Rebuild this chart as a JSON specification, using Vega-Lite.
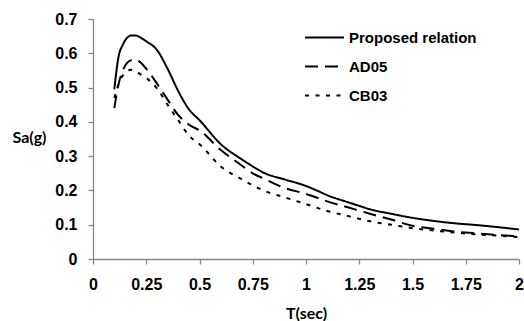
{
  "$schema": "https://vega.github.io/schema/vega-lite/v6.json",
  "width": 426,
  "height": 240,
  "autosize": "none",
  "padding": {"left": 93, "top": 19, "right": 5, "bottom": 62},
  "background": "white",
  "config": {"view": {"stroke": null}},
  "data": {"values": [
    {"T": 0.1, "Sa": 0.495, "series": "Proposed relation"},
    {"T": 0.12, "Sa": 0.59, "series": "Proposed relation"},
    {"T": 0.14, "Sa": 0.625, "series": "Proposed relation"},
    {"T": 0.16, "Sa": 0.645, "series": "Proposed relation"},
    {"T": 0.18, "Sa": 0.652, "series": "Proposed relation"},
    {"T": 0.2, "Sa": 0.652, "series": "Proposed relation"},
    {"T": 0.22, "Sa": 0.647, "series": "Proposed relation"},
    {"T": 0.25, "Sa": 0.635, "series": "Proposed relation"},
    {"T": 0.3, "Sa": 0.61, "series": "Proposed relation"},
    {"T": 0.35, "Sa": 0.555, "series": "Proposed relation"},
    {"T": 0.4, "Sa": 0.49, "series": "Proposed relation"},
    {"T": 0.45, "Sa": 0.437, "series": "Proposed relation"},
    {"T": 0.5, "Sa": 0.405, "series": "Proposed relation"},
    {"T": 0.6, "Sa": 0.335, "series": "Proposed relation"},
    {"T": 0.7, "Sa": 0.29, "series": "Proposed relation"},
    {"T": 0.75, "Sa": 0.27, "series": "Proposed relation"},
    {"T": 0.8, "Sa": 0.252, "series": "Proposed relation"},
    {"T": 0.9, "Sa": 0.232, "series": "Proposed relation"},
    {"T": 1.0, "Sa": 0.213, "series": "Proposed relation"},
    {"T": 1.05, "Sa": 0.2, "series": "Proposed relation"},
    {"T": 1.1, "Sa": 0.186, "series": "Proposed relation"},
    {"T": 1.2, "Sa": 0.165, "series": "Proposed relation"},
    {"T": 1.25, "Sa": 0.155, "series": "Proposed relation"},
    {"T": 1.3, "Sa": 0.145, "series": "Proposed relation"},
    {"T": 1.4, "Sa": 0.132, "series": "Proposed relation"},
    {"T": 1.5, "Sa": 0.12, "series": "Proposed relation"},
    {"T": 1.6, "Sa": 0.111, "series": "Proposed relation"},
    {"T": 1.7, "Sa": 0.104, "series": "Proposed relation"},
    {"T": 1.8, "Sa": 0.099, "series": "Proposed relation"},
    {"T": 1.9, "Sa": 0.093, "series": "Proposed relation"},
    {"T": 2.0, "Sa": 0.086, "series": "Proposed relation"},
    {"T": 0.1, "Sa": 0.44, "series": "AD05"},
    {"T": 0.12, "Sa": 0.51, "series": "AD05"},
    {"T": 0.14, "Sa": 0.55, "series": "AD05"},
    {"T": 0.16, "Sa": 0.572, "series": "AD05"},
    {"T": 0.18, "Sa": 0.58, "series": "AD05"},
    {"T": 0.2, "Sa": 0.582, "series": "AD05"},
    {"T": 0.22, "Sa": 0.575, "series": "AD05"},
    {"T": 0.25, "Sa": 0.555, "series": "AD05"},
    {"T": 0.3, "Sa": 0.512, "series": "AD05"},
    {"T": 0.35, "Sa": 0.465, "series": "AD05"},
    {"T": 0.4, "Sa": 0.42, "series": "AD05"},
    {"T": 0.45, "Sa": 0.392, "series": "AD05"},
    {"T": 0.5, "Sa": 0.375, "series": "AD05"},
    {"T": 0.6, "Sa": 0.318, "series": "AD05"},
    {"T": 0.7, "Sa": 0.272, "series": "AD05"},
    {"T": 0.75, "Sa": 0.25, "series": "AD05"},
    {"T": 0.8, "Sa": 0.235, "series": "AD05"},
    {"T": 0.9, "Sa": 0.207, "series": "AD05"},
    {"T": 1.0, "Sa": 0.19, "series": "AD05"},
    {"T": 1.1, "Sa": 0.168, "series": "AD05"},
    {"T": 1.2, "Sa": 0.15, "series": "AD05"},
    {"T": 1.3, "Sa": 0.132, "series": "AD05"},
    {"T": 1.4, "Sa": 0.115, "series": "AD05"},
    {"T": 1.5, "Sa": 0.097, "series": "AD05"},
    {"T": 1.6, "Sa": 0.088, "series": "AD05"},
    {"T": 1.7, "Sa": 0.08, "series": "AD05"},
    {"T": 1.8, "Sa": 0.075, "series": "AD05"},
    {"T": 1.9, "Sa": 0.07, "series": "AD05"},
    {"T": 2.0, "Sa": 0.066, "series": "AD05"},
    {"T": 0.1, "Sa": 0.47, "series": "CB03"},
    {"T": 0.12, "Sa": 0.51, "series": "CB03"},
    {"T": 0.14, "Sa": 0.535, "series": "CB03"},
    {"T": 0.16, "Sa": 0.548, "series": "CB03"},
    {"T": 0.18, "Sa": 0.552, "series": "CB03"},
    {"T": 0.2, "Sa": 0.548, "series": "CB03"},
    {"T": 0.22, "Sa": 0.54, "series": "CB03"},
    {"T": 0.25, "Sa": 0.528, "series": "CB03"},
    {"T": 0.3, "Sa": 0.498, "series": "CB03"},
    {"T": 0.35, "Sa": 0.45, "series": "CB03"},
    {"T": 0.4, "Sa": 0.405, "series": "CB03"},
    {"T": 0.45, "Sa": 0.36, "series": "CB03"},
    {"T": 0.5, "Sa": 0.335, "series": "CB03"},
    {"T": 0.6, "Sa": 0.27, "series": "CB03"},
    {"T": 0.7, "Sa": 0.232, "series": "CB03"},
    {"T": 0.75, "Sa": 0.215, "series": "CB03"},
    {"T": 0.8, "Sa": 0.2, "series": "CB03"},
    {"T": 0.9, "Sa": 0.18, "series": "CB03"},
    {"T": 1.0, "Sa": 0.16, "series": "CB03"},
    {"T": 1.1, "Sa": 0.14, "series": "CB03"},
    {"T": 1.2, "Sa": 0.125, "series": "CB03"},
    {"T": 1.3, "Sa": 0.11, "series": "CB03"},
    {"T": 1.4, "Sa": 0.1, "series": "CB03"},
    {"T": 1.5, "Sa": 0.09, "series": "CB03"},
    {"T": 1.6, "Sa": 0.083, "series": "CB03"},
    {"T": 1.7, "Sa": 0.077, "series": "CB03"},
    {"T": 1.8, "Sa": 0.072, "series": "CB03"},
    {"T": 1.9, "Sa": 0.068, "series": "CB03"},
    {"T": 2.0, "Sa": 0.064, "series": "CB03"}
  ]},
  "mark": {"type": "line", "color": "black", "strokeWidth": 2, "interpolate": "monotone"},
  "encoding": {
    "x": {
      "field": "T", "type": "quantitative",
      "scale": {"domain": [0, 2], "nice": false, "zero": false},
      "axis": {
        "values": [0, 0.25, 0.5, 0.75, 1, 1.25, 1.5, 1.75, 2],
        "labelExpr": "'' + datum.value",
        "grid": false,
        "title": "T(sec)",
        "titleFont": "Lato", "titleFontSize": 16, "titleFontWeight": "bold", "titleColor": "black",
        "titleBaseline": "alphabetic", "titleY": 59,
        "labelFont": "Liberation Sans", "labelFontSize": 16, "labelFontWeight": "bold", "labelColor": "black",
        "labelPadding": 12, "labelFlush": false, "labelOverlap": false,
        "domainColor": "#868686", "domainWidth": 1.3, "tickColor": "#868686", "tickSize": 5, "tickWidth": 1.3
      }
    },
    "y": {
      "field": "Sa", "type": "quantitative",
      "scale": {"domain": [0, 0.7], "nice": false},
      "axis": {
        "values": [0, 0.1, 0.2, 0.3, 0.4, 0.5, 0.6, 0.7],
        "labelExpr": "'' + datum.value",
        "grid": false,
        "title": "Sa(g)",
        "titleFont": "Lato", "titleFontSize": 16, "titleFontWeight": "bold", "titleColor": "black",
        "titleAngle": 0, "titleAlign": "center", "titleBaseline": "alphabetic",
        "titleX": -64, "titleY": 123,
        "labelFont": "Liberation Sans", "labelFontSize": 16, "labelFontWeight": "bold", "labelColor": "black",
        "labelPadding": 11, "labelFlush": false, "labelOverlap": false,
        "domainColor": "#868686", "domainWidth": 1.3, "tickColor": "#868686", "tickSize": 5, "tickWidth": 1.3
      }
    },
    "detail": {"field": "series"},
    "strokeDash": {
      "field": "series", "type": "nominal",
      "scale": {"domain": ["Proposed relation", "AD05", "CB03"], "range": [[1, 0], [13, 7], [4, 6.5]]},
      "legend": {
        "title": null,
        "orient": "none", "legendX": 211, "legendY": -2,
        "padding": 0,
        "symbolType": "stroke", "symbolSize": 1521, "symbolStrokeWidth": 2, "symbolStrokeColor": "black",
        "rowPadding": -10, "labelOffset": 4,
        "labelFont": "Liberation Sans", "labelFontSize": 15, "labelFontWeight": "bold", "labelColor": "black"
      }
    }
  }
}
